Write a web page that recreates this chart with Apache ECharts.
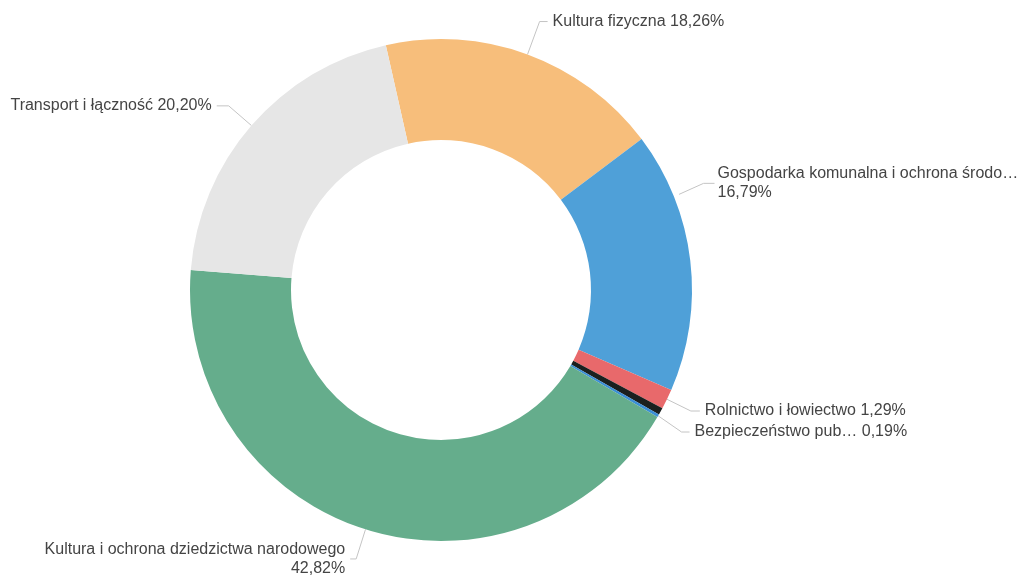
<!DOCTYPE html>
<html>
<head>
<meta charset="utf-8">
<script src="https://cdn.jsdelivr.net/npm/echarts@6/dist/echarts.min.js"></script>
<style>
html, body { margin: 0; padding: 0; background: #fff; }
#main { width: 1019px; height: 575px; }
</style>
</head>
<body>
<div id="main"></div>
<script>
// slices in clockwise order, starting with the one at the top
var names = ['Kultura fizyczna', 'Gospodarka komunalna i ochrona środowiska', 'Rolnictwo i łowiectwo', 'Pozostałe',
    'Bezpieczeństwo publiczne i ochrona przeciwpożarowa', 'Kultura i ochrona dziedzictwa narodowego', 'Transport i łączność'];
var labels = ['Kultura fizyczna', 'Gospodarka komunalna i ochrona środo…', 'Rolnictwo i łowiectwo', '',
    'Bezpieczeństwo pub…', 'Kultura i ochrona dziedzictwa narodowego', 'Transport i łączność'];
var values = [18.26, 16.79, 1.29, 0.45, 0.19, 42.82, 20.20];
var colors = ['#f7be7b', '#4fa0d8', '#e8696b', '#1b201f', '#3b8fd6', '#65ad8c', '#e6e6e6'];

// label line lengths per slice [length, length2]
var lineLen = [[35, 8], [10, 5], [27, 9], [30, 12], [27, 8], [31, 6], [30, 12]];

var cx = 441, cy = 290, rOuter = 251;

var myChart = echarts.init(document.getElementById('main'));

var data = [];
for (var i = 0; i < names.length; i++) {
    data.push({
        value: values[i],
        name: names[i],
        itemStyle: {color: colors[i]},
        label: {show: labels[i] !== ''},
        labelLine: {show: labels[i] !== '', length: lineLen[i][0], length2: lineLen[i][1]}
    });
}

var option = {
    animation: false,
    series: [
        {
            type: 'pie',
            top: 0,
            bottom: -20,
            center: [cx, cy],
            radius: [150, rOuter],
            startAngle: 102.7,
            clockwise: true,
            itemStyle: {borderWidth: 0},
            label: {
                color: '#444',
                fontFamily: 'Liberation Sans, Arial, sans-serif',
                fontSize: 16,
                lineHeight: 19,
                bleedMargin: 0,
                formatter: function (p) {
                    var txt = labels[p.dataIndex];
                    var pct = p.value.toFixed(2).replace('.', ',') + '%';
                    return txt.length > 30 ? txt + '\n' + pct : txt + ' ' + pct;
                }
            },
            labelLine: {
                lineStyle: {color: '#c4c4c4', width: 1}
            },
            // the long label on the right sits higher than its slice
            labelLayout: function (p) {
                if (p.dataIndex === 1) {
                    var lx = p.labelRect.x + 12;
                    var ty = p.labelRect.y + p.labelRect.height / 2 - 76;
                    var sy = ty + 11;
                    var sx = cx + Math.sqrt(rOuter * rOuter - (sy - cy) * (sy - cy)) + 6;
                    return {
                        x: lx,
                        y: ty,
                        labelLinePoints: [[sx, sy], [lx - 14, ty], [lx - 3, ty]]
                    };
                }
            },
            data: data
        }
    ]
};

myChart.setOption(option);
</script>
</body>
</html>
